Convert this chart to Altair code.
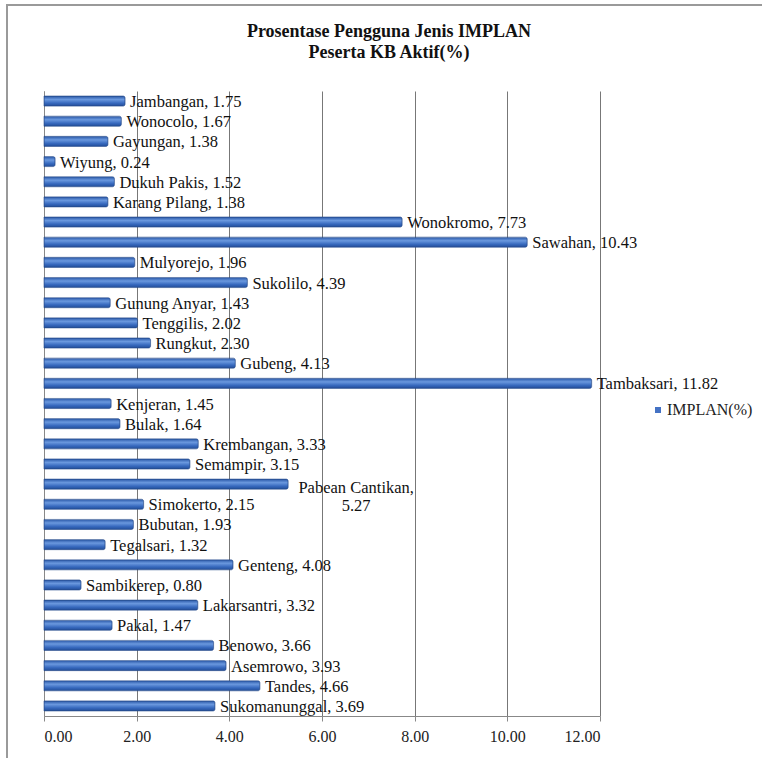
import altair as alt
import pandas as pd

names = ["Jambangan", "Wonocolo", "Gayungan", "Wiyung", "Dukuh Pakis", "Karang Pilang",
         "Wonokromo", "Sawahan", "Mulyorejo", "Sukolilo", "Gunung Anyar", "Tenggilis",
         "Rungkut", "Gubeng", "Tambaksari", "Kenjeran", "Bulak", "Krembangan", "Semampir",
         "Pabean Cantikan", "Simokerto", "Bubutan", "Tegalsari", "Genteng", "Sambikerep",
         "Lakarsantri", "Pakal", "Benowo", "Asemrowo", "Tandes", "Sukomanunggal"]
values = [1.75, 1.67, 1.38, 0.24, 1.52, 1.38, 7.73, 10.43, 1.96, 4.39, 1.43, 2.02,
          2.30, 4.13, 11.82, 1.45, 1.64, 3.33, 3.15, 5.27, 2.15, 1.93, 1.32, 4.08, 0.80,
          3.32, 1.47, 3.66, 3.93, 4.66, 3.69]
series_name = "IMPLAN(%)"
x_ticks = [0, 2, 4, 6, 8, 10, 12]

df = pd.DataFrame({"name": names, "value": values})
df["series"] = series_name
df["label"] = [f"{n}, {v:.2f}" for n, v in zip(names, values)]
df["wrapped"] = [n == "Pabean Cantikan" for n in names]

FONT = "Liberation Serif"
W, H = 556, 625

base = alt.Chart(df)

y_enc = alt.Y("name:N", sort=None, title=None,
              scale=alt.Scale(paddingInner=0.5, paddingOuter=0.25),
              axis=alt.Axis(labels=False, ticks=False, domain=True, domainColor="#888",
                            grid=False))
x_enc = alt.X("value:Q", title=None,
              scale=alt.Scale(domain=[0, 12], nice=False),
              axis=alt.Axis(values=x_ticks, format=".2f", labelFont=FONT, labelFontSize=16,
                            labelColor="#222", grid=True, gridColor="#777", gridWidth=1,
                            domainColor="#888", tickColor="#888", tickSize=5,
                            labelPadding=7))

grad = alt.Gradient(gradient="linear",
                    stops=[alt.GradientStop(color="#2856A6", offset=0),
                           alt.GradientStop(color="#6A98DE", offset=0.35),
                           alt.GradientStop(color="#3769BE", offset=0.7),
                           alt.GradientStop(color="#224D98", offset=1)],
                    x1=0, x2=0, y1=0, y2=1)

bars = base.mark_bar(color=grad, cornerRadiusEnd=2, stroke="#284D8D", strokeWidth=0.6).encode(
    x=x_enc, y=y_enc)

labels = base.transform_filter("!datum.wrapped").mark_text(
    align="left", baseline="middle", dx=5, dy=1, font=FONT, fontSize=16.5, color="#111"
).encode(x=x_enc, y=y_enc, text="label:N")

wrapped = base.transform_filter("datum.wrapped").transform_calculate(
    lines="[datum.name + ',', format(datum.value, '.2f')]"
).mark_text(align="center", baseline="middle", dx=68, dy=4, font=FONT, fontSize=16.5,
            color="#111", lineHeight=18).encode(
    x=x_enc, y=y_enc, text="lines:N")

legend_layer = base.mark_square(opacity=0, size=40).encode(
    x=x_enc, y=y_enc,
    color=alt.Color("series:N", scale=alt.Scale(range=["#4472C4"]),
                    legend=alt.Legend(title=None, orient="none", legendX=606, legendY=311,
                                      symbolType="square", symbolSize=36, symbolOpacity=1,
                                      labelFont=FONT, labelFontSize=16, labelColor="#222",
                                      labelOffset=1, symbolStrokeWidth=0)))

frame = alt.Chart(pd.DataFrame({"a": [0]})).mark_rect(
    fill=None, stroke="#9A9A9A", strokeWidth=2).encode(
    x=alt.value(-37), x2=alt.value(760), y=alt.value(-86), y2=alt.value(700))

chart = alt.layer(frame, bars, labels, wrapped, legend_layer).properties(
    width=W, height=H,
    title=alt.TitleParams(["Prosentase Pengguna Jenis IMPLAN", "Peserta KB Aktif(%)"],
                          font=FONT, fontSize=18, fontWeight="bold", color="#111",
                          anchor="middle", frame="group", dx=67, offset=-58, lineHeight=21),
    autosize=alt.AutoSizeParams(type="none"),
    padding={"left": 44, "top": 91, "right": 162, "bottom": 42},
    background="white",
).configure_view(stroke=None)

chart.save("out.html", embed_options={"renderer": "svg", "actions": False})
